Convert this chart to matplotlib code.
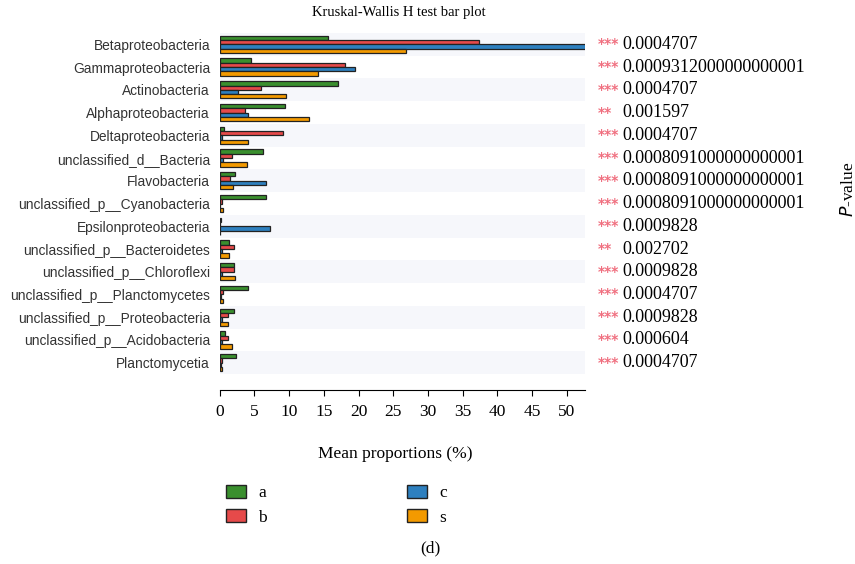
import matplotlib.pyplot as plt
from matplotlib.patches import Patch

taxa = ["Betaproteobacteria", "Gammaproteobacteria", "Actinobacteria",
        "Alphaproteobacteria", "Deltaproteobacteria", "unclassified_d__Bacteria",
        "Flavobacteria", "unclassified_p__Cyanobacteria", "Epsilonproteobacteria",
        "unclassified_p__Bacteroidetes", "unclassified_p__Chloroflexi",
        "unclassified_p__Planctomycetes", "unclassified_p__Proteobacteria",
        "unclassified_p__Acidobacteria", "Planctomycetia"]

a = [15.6, 4.5, 17.1, 9.4, 0.6, 6.3, 2.2, 6.7, 0.2, 1.3, 2.0, 4.1, 2.1, 0.8, 2.4]
b = [37.3, 18.1, 6.0, 3.7, 9.1, 1.8, 1.5, 0.3, 0.1, 2.0, 2.0, 0.4, 1.2, 1.2, 0.3]
c = [53.0, 19.5, 2.7, 4.1, 0.3, 0.5, 6.7, 0.1, 7.3, 0.3, 0.3, 0.2, 0.3, 0.3, 0.2]
s = [26.8, 14.2, 9.6, 12.8, 4.1, 3.9, 1.9, 0.5, 0.1, 1.3, 2.2, 0.5, 1.2, 1.8, 0.3]

pvals = ["0.0004707", "0.0009312000000000001", "0.0004707", "0.001597",
         "0.0004707", "0.0008091000000000001", "0.0008091000000000001",
         "0.0008091000000000001", "0.0009828", "0.002702", "0.0009828",
         "0.0004707", "0.0009828", "0.000604", "0.0004707"]
stars = ["***", "***", "***", "**", "***", "***", "***", "***", "***", "**",
         "***", "***", "***", "***", "***"]

groups = ["a", "b", "c", "s"]
colors = ["#3a8f2e", "#e64a4a", "#2e80bf", "#f39a00"]

fig = plt.figure(figsize=(8.55, 5.64), dpi=100)
ax = fig.add_axes([0.257, 0.3085, 0.427, 0.633])

serif = "Liberation Serif"
h = 0.19
offsets = [-0.285, -0.095, 0.095, 0.285]
for i in range(len(taxa)):
    if i % 2 == 0:
        ax.axhspan(i - 0.5, i + 0.5, color="#f6f7fb", zorder=0, lw=0)
for vals, off, col in zip([a, b, c, s], offsets, colors):
    ax.barh([i + off for i in range(len(taxa))], vals, height=h, color=col,
            edgecolor="#222222", linewidth=0.9, zorder=2)

ax.set_xlim(0, 52.6)
ax.set_ylim(15.2, -0.5)
ax.set_yticks(range(len(taxa)))
ax.set_yticklabels(taxa, family="Liberation Sans", fontsize=9.9, color="#333333")
ax.tick_params(axis="y", length=0, pad=7)
ax.set_xticks(range(0, 51, 5))
ax.tick_params(axis="x", labelsize=12.5, length=4, pad=6)
for lab in ax.get_xticklabels():
    lab.set_family(serif)
for sp in ["left", "top", "right"]:
    ax.spines[sp].set_visible(False)

for i in range(len(taxa)):
    ax.text(1.036, i, stars[i], transform=ax.get_yaxis_transform(),
            color="#f07080", fontsize=10, fontweight="bold", va="center", ha="left")
    ax.text(1.104, i, pvals[i], transform=ax.get_yaxis_transform(),
            family=serif, fontsize=13, va="center", ha="left")

fig.text(0.467, 0.978, "Kruskal-Wallis H test bar plot", family=serif,
         fontsize=10.5, ha="center", va="center")
fig.text(0.992, 0.665, "$P$-value", family=serif, fontsize=12.5,
         rotation=90, ha="center", va="center")
fig.text(0.462, 0.195, "Mean proportions (%)", family=serif, fontsize=12.5,
         ha="center", va="center")
fig.text(0.503, 0.028, "(d)", family=serif, fontsize=12.5,
         ha="center", va="center")

handles = [Patch(facecolor=col, edgecolor="#222222", label=g)
           for g, col in zip(groups, colors)]
fig.legend(handles=handles, loc="upper left", bbox_to_anchor=(0.246, 0.168),
           ncol=2, frameon=False, prop={"family": serif, "size": 12.5},
           columnspacing=8.1, handlelength=1.15, handleheight=0.75,
           labelspacing=0.45, handletextpad=0.7)

fig.savefig("out.png", dpi=100)
